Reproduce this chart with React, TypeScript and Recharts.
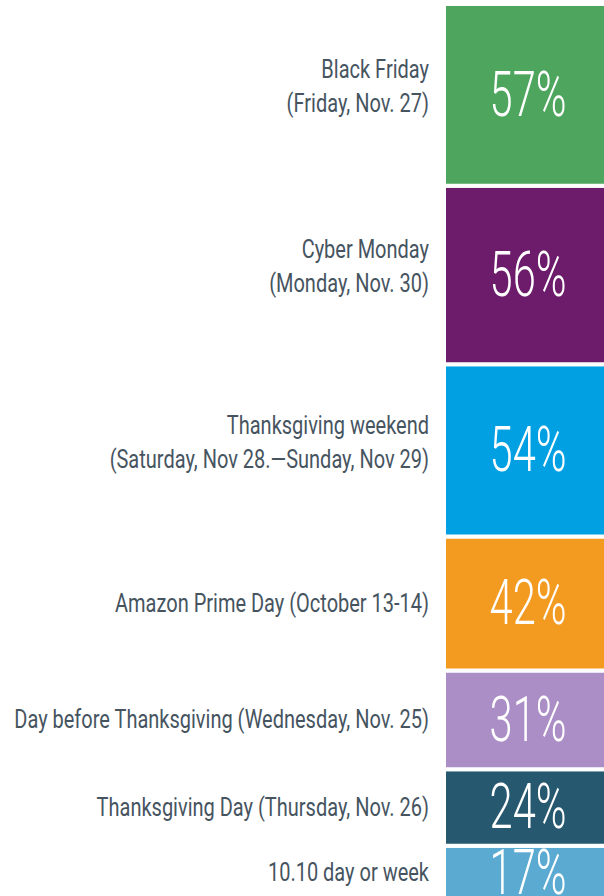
import React from 'react';
import { BarChart, Bar, XAxis, YAxis, LabelList } from 'recharts';

// top to bottom as in the picture
const events = [
  'Black Friday',
  'Cyber Monday',
  'Thanksgiving weekend',
  'Amazon Prime Day',
  'Day before Thanksgiving',
  'Thanksgiving Day',
  '10.10 day or week',
];
const eventLabels = [
  ['Black Friday', '(Friday, Nov. 27)'],
  ['Cyber Monday', '(Monday, Nov. 30)'],
  ['Thanksgiving weekend', '(Saturday, Nov 28.\u2014Sunday, Nov 29)'],
  ['Amazon Prime Day (October 13-14)'],
  ['Day before Thanksgiving (Wednesday, Nov. 25)'],
  ['Thanksgiving Day (Thursday, Nov. 26)'],
  ['10.10 day or week'],
];
const shares = [57, 56, 54, 42, 31, 24, 17];
const colors = ['#4da55e', '#6c1c6b', '#00a0e3', '#f39a21', '#ab8ec5', '#265870', '#5baad1'];

const total = shares.reduce((a, b) => a + b, 0);
const row: Record<string, number | string> = { name: 'shopping days' };
events.forEach((e, i) => { row[e] = shares[i]; });
const data = [row];

const TEXT = '#46545f';

const percentLabel = (props: any) => {
  const { x, y, width, height, value } = props;
  const cx = Number(x) + Number(width) / 2;
  const cy = Number(y) + Number(height) / 2;
  return (
    <text
      transform={`translate(${cx},${cy - 1}) scale(0.66,1)`}
      textAnchor="middle"
      dominantBaseline="central"
      fill="#fff"
      fontFamily="Roboto, sans-serif"
      fontWeight={300}
      fontSize={63}
    >
      {`${value}%`}
    </text>
  );
};

const makeNameLabel = (idx: number) => (props: any) => {
  const { x, y, height } = props;
  const lines = eventLabels[idx];
  const cy = Number(y) + Number(height) / 2;
  const lh = 34;
  // two-line labels sit a little above the middle of their block
  const start = cy - ((lines.length - 1) * lh) / 2 - (lines.length > 1 ? 8 : 0);
  return (
    <g>
      {lines.map((ln, k) => (
        <text
          key={k}
          transform={`translate(${Number(x) - 15},${start + k * lh}) scale(0.8,1)`}
          textAnchor="end"
          dominantBaseline="central"
          fill={TEXT}
          fontFamily="Roboto, sans-serif"
          fontSize={25}
        >
          {ln}
        </text>
      ))}
    </g>
  );
};

export default function App() {
  // recharts stacks the first series at the bottom
  const order = events.map((_, i) => i).reverse();
  return (
    <div style={{ position: 'absolute', left: 0, top: 0, width: 604, height: 896, overflow: 'hidden', background: '#fff' }}>
      <BarChart
        width={612}
        height={900}
        data={data}
        margin={{ top: 4, right: 0, left: 444, bottom: 0 }}
        barCategoryGap={0}
      >
        <XAxis dataKey="name" type="category" hide />
        <YAxis type="number" domain={[0, total]} hide />
        {order.map(i => (
          <Bar
            key={events[i]}
            dataKey={events[i]}
            stackId="days"
            fill={colors[i]}
            stroke="#fff"
            strokeWidth={4}
            isAnimationActive={false}
          >
            <LabelList dataKey={events[i]} content={percentLabel} />
            <LabelList dataKey={events[i]} content={makeNameLabel(i)} />
          </Bar>
        ))}
      </BarChart>
    </div>
  );
}
